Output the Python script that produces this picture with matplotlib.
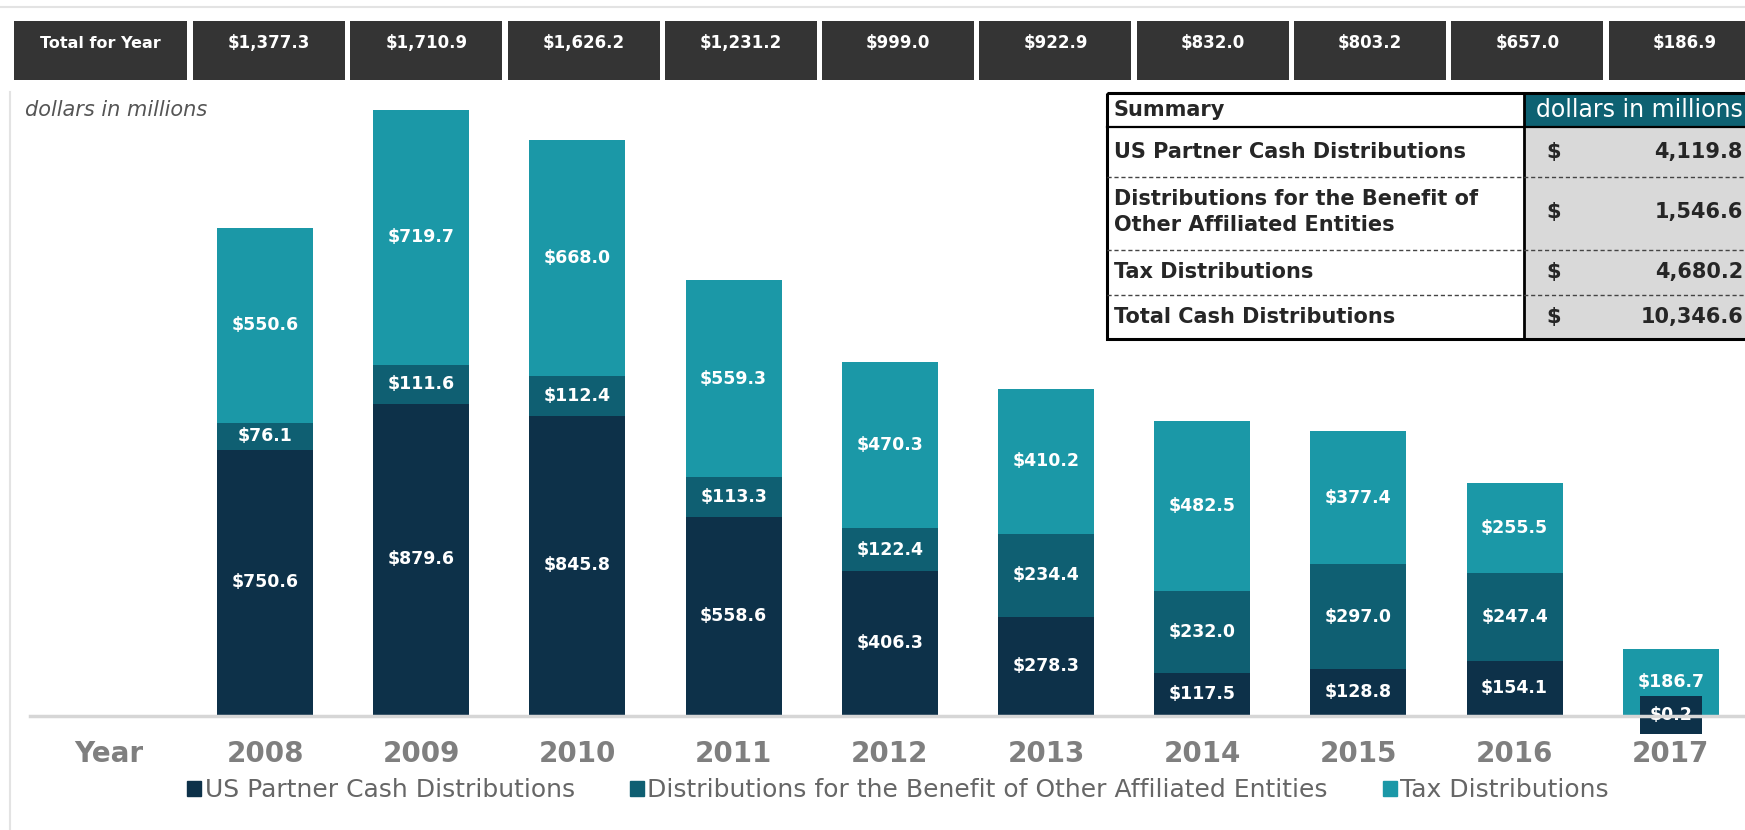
import matplotlib.pyplot as plt
from matplotlib.patches import Rectangle, Patch

# datos (millones de dólares)
years = ['2008', '2009', '2010', '2011', '2012', '2013', '2014', '2015', '2016', '2017']
us_partner = [750.6, 879.6, 845.8, 558.6, 406.3, 278.3, 117.5, 128.8, 154.1, 0.2]
affiliated = [76.1, 111.6, 112.4, 113.3, 122.4, 234.4, 232.0, 297.0, 247.4, 0.0]
tax = [550.6, 719.7, 668.0, 559.3, 470.3, 410.2, 482.5, 377.4, 255.5, 186.7]

series_names = ['US Partner Cash Distributions',
                'Distributions for the Benefit of Other Affiliated Entities',
                'Tax Distributions']
summary_labels = ['US Partner Cash Distributions',
                  'Distributions for the Benefit of\nOther Affiliated Entities',
                  'Tax Distributions',
                  'Total Cash Distributions']

totals = [u + a + t for u, a, t in zip(us_partner, affiliated, tax)]
summary_values = [sum(us_partner), sum(affiliated), sum(tax), sum(totals)]

c_us = '#0d3149'
c_af = '#0f5f72'
c_tax = '#1b98a7'
gris = '#7f7f7f'

W, H = 1745, 830
fig = plt.figure(figsize=(W / 100, H / 100), dpi=100)
fig.patch.set_facecolor('white')

# ---- ejes del gráfico de barras ----
pitch = 156.2      # px entre barras
x0 = 265           # centro de la barra 2008
escala = 0.3536    # px por millón
base = 715         # línea base en px
alto = 650
ax = fig.add_axes([0, (H - base) / H, 1, alto / H])
ax.set_xlim(-x0 / pitch, (W - x0) / pitch)
ax.set_ylim(0, alto / escala)
for s in ax.spines.values():
    s.set_visible(False)
ax.set_yticks([])
ax.patch.set_alpha(0)

x = list(range(len(years)))
bw = 96 / pitch
ax.bar(x, us_partner, bw, color=c_us, label=series_names[0])
ax.bar(x, affiliated, bw, bottom=us_partner, color=c_af, label=series_names[1])
bottom3 = [u + a for u, a in zip(us_partner, affiliated)]
ax.bar(x, tax, bw, bottom=bottom3, color=c_tax, label=series_names[2])

lab = dict(ha='center', va='center', color='white', fontsize=12.5, fontweight='bold')
for i in x:
    if us_partner[i] > 20:
        ax.text(i, us_partner[i] / 2, f'${us_partner[i]:,.1f}', **lab)
    else:
        # segmento demasiado pequeño: etiqueta con fondo del mismo color
        ax.text(i, us_partner[i] / 2, f'${us_partner[i]:,.1f}', **lab,
                bbox=dict(boxstyle='square,pad=0.55', fc=c_us, ec='none'))
    if affiliated[i] > 0:
        ax.text(i, us_partner[i] + affiliated[i] / 2, f'${affiliated[i]:,.1f}', **lab)
    ax.text(i, bottom3[i] + tax[i] / 2, f'${tax[i]:,.1f}', **lab)

ax.set_xticks([-1] + x, ['Year'] + years)
ax.tick_params(axis='x', length=0, pad=18, labelsize=20, labelcolor=gris)
for t in ax.get_xticklabels():
    t.set_fontweight('bold')

# ---- capa superior en píxeles: cabecera, tabla, marco ----
ov = fig.add_axes([0, 0, 1, 1], zorder=5)
ov.set_xlim(0, W)
ov.set_ylim(H, 0)
ov.axis('off')
ov.patch.set_alpha(0)

# marco tenue
ov.plot([0, W], [7, 7], color='#e3e3e3', lw=1.5)
ov.plot([10, 10], [92, H], color='#e3e3e3', lw=1.5)
ov.plot([30, W], [716, 716], color='#d6d6d6', lw=2.5, zorder=0)

# cabecera "Total for Year"
hdr = '#343434'
ov.add_patch(Rectangle((14, 21), 173, 59, fc=hdr, ec='none'))
ov.text(100, 43, 'Total for Year', ha='center', va='center', color='white',
        fontsize=11.5, fontweight='bold')
for i, tot in enumerate(totals):
    left = 193 + i * 157.3
    ov.add_patch(Rectangle((left, 21), 152, 59, fc=hdr, ec='none'))
    ov.text(left + 76, 43, f'${tot:,.1f}', ha='center', va='center', color='white',
            fontsize=12, fontweight='bold')

ov.text(25, 110, 'dollars in millions', ha='left', va='center', color='#555555',
        fontsize=15, style='italic')

# tabla resumen
tl, tr, tt, tb = 1107, 1765, 93, 339
split = 1524
ov.add_patch(Rectangle((split, 127), tr - split, tb - 127, fc='#d9d9d9', ec='none'))
ov.add_patch(Rectangle((split, tt), tr - split, 127 - tt, fc='#0e6172', ec='none'))
ov.add_patch(Rectangle((tl, tt), tr - tl, tb - tt, fc='none', ec='black', lw=2.2))
ov.plot([tl, tr], [127, 127], color='black', lw=1.6)
ov.plot([split, split], [tt, tb], color='black', lw=2)
for yy in [177, 250, 295]:
    ov.plot([tl, tr], [yy, yy], color='#444444', lw=1, ls=(0, (3, 2)))

txt = '#262626'
ov.text(1114, 110, 'Summary', ha='left', va='center', color=txt, fontsize=15,
        fontweight='bold')
ov.text(1536, 110, 'dollars in millions', ha='left', va='center', color='white',
        fontsize=17)
row_y = [152, 212, 272, 317]
for lbl, val, yy in zip(summary_labels, summary_values, row_y):
    ov.text(1114, yy, lbl, ha='left', va='center', color=txt, fontsize=15,
            fontweight='bold', linespacing=1.35)
    ov.text(1546, yy, '$', ha='left', va='center', color=txt, fontsize=15,
            fontweight='bold')
    ov.text(1743, yy, f'{val:,.1f}', ha='right', va='center', color=txt, fontsize=15,
            fontweight='bold')

# leyenda
handles = [Patch(color=c_us), Patch(color=c_af), Patch(color=c_tax)]
fig.legend(handles, series_names, loc='center', bbox_to_anchor=(898 / W, 40 / H),
           ncol=3, frameon=False, fontsize=18, labelcolor='#666666',
           handlelength=0.55, handleheight=0.55, handletextpad=0.15, columnspacing=2.2)

fig.savefig('out.png', dpi=100)
